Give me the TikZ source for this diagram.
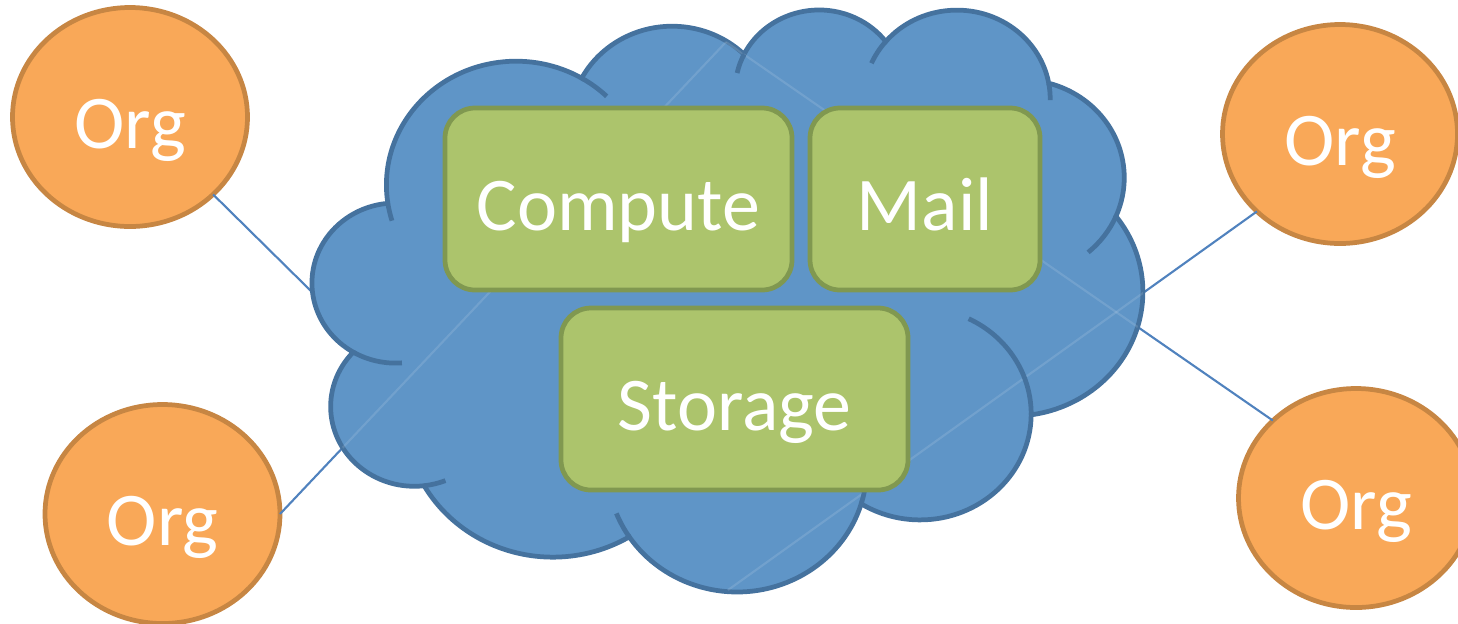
\documentclass[tikz,border=0pt]{standalone}
\usepackage{fontspec}
\setmainfont{Carlito}
\usetikzlibrary{shapes.geometric}
\definecolor{cloudfill}{HTML}{5F95C7}
\definecolor{cloudline}{HTML}{45729E}
\definecolor{orgfill}{HTML}{F9A858}
\definecolor{orgline}{HTML}{C78643}
\definecolor{boxfill}{HTML}{ACC46C}
\definecolor{boxline}{HTML}{809850}
\definecolor{connblue}{HTML}{5082BE}
\newcommand\lblfont{\fontsize{21.6pt}{26pt}\selectfont}
\tikzset{
  org/.style={ellipse, draw=orgline, fill=orgfill, line width=1.35pt, inner sep=0pt, outer sep=0pt,
    minimum width=2.35cm, minimum height=2.19cm, text=white, font=\lblfont, text height=0.62cm, text depth=0pt},
  svc/.style={rectangle, rounded corners=0.3cm, draw=boxline, fill=boxfill, line width=1.35pt, inner sep=0pt,
    outer sep=0pt, minimum height=1.82cm, text=white, font=\lblfont, text height=0.62cm, text depth=0pt},
  conn/.style={draw=connblue, line width=0.6pt},
  faint/.style={draw=white, opacity=0.12, line width=0.6pt},
  cloudshape/.style={draw=cloudline, fill=cloudfill, line width=1.35pt},
  hook/.style={draw=cloudline, line width=1.35pt},
}
\begin{document}
\begin{tikzpicture}
\useasboundingbox (0,0) rectangle (14.58,-6.23);
% organisations
\node[org] (orgTL) at (1.30,-1.17) {Org};
\node[org] (orgBL) at (1.625,-5.14) {Org};
\node[org] (orgTR) at (13.40,-1.34) {Org};
\node[org] (orgBR) at (13.56,-4.98) {Org};
% cloud connection points
\coordinate (cT) at (7.26,-0.42);
\coordinate (cB) at (7.28,-5.90);
\coordinate (cL) at (3.13,-2.93);
% connectors
\draw[conn] (orgTL.south east) -- (cL);
\draw[conn] (orgBL.east) -- (cT);
\draw[conn] (orgTR.south west) -- (cB);
\draw[conn] (orgBR.north west) -- (cT);
% cloud
\filldraw[cloudshape, save path=\cloudpath] (3.876,-2.016) coordinate (c0)
  arc[start angle=-172.255, end angle=-300.363, x radius=1.2972, y radius=1.2375] coordinate (c1)
  arc[start angle=152.025, end angle=45.454, x radius=1.0245, y radius=0.9786] coordinate (c2)
  arc[start angle=153.498, end angle=37.326, x radius=0.8385, y radius=0.8006] coordinate (c3)
  arc[start angle=139.703, end angle=10.211, x radius=0.9330, y radius=0.8881] coordinate (c4)
  arc[start angle=74.768, end angle=-23.211, x radius=1.0245, y radius=0.9794] coordinate (c5)
  arc[start angle=37.526, end angle=-81.862, x radius=1.3015, y radius=1.2416] coordinate (c6)
  arc[start angle=-0.460, end angle=-121.977, x radius=1.1113, y radius=1.0594] coordinate (c7)
  arc[start angle=-16.843, end angle=-146.226, x radius=1.2970, y radius=1.2409] coordinate (c8)
  arc[start angle=-58.985, end angle=-150.206, x radius=1.4830, y radius=1.4197] coordinate (c9)
  arc[start angle=-83.306, end angle=-223.107, x radius=0.8376, y radius=0.7969] coordinate (c10)
  arc[start angle=-120.354, end angle=-264.112, x radius=0.8347, y radius=0.8006]
  -- cycle;
% connectors seen faintly through the cloud
\begin{scope}
  \clip[use path=\cloudpath];
  \draw[faint] (orgBL.east) -- (cT);
  \draw[faint] (orgTR.south west) -- (cB);
  \draw[faint] (orgBR.north west) -- (cT);
\end{scope}
% inner hooks of the cloud
\draw[hook] (c0) arc[start angle=-172.255, end angle=-163.194, x radius=1.2972, y radius=1.2375];
\draw[hook] (c1) arc[start angle=59.637, end angle=45.737, x radius=1.2972, y radius=1.2375];
\draw[hook] (c2) arc[start angle=153.498, end angle=167.726, x radius=0.8385, y radius=0.8006];
\draw[hook] (c3) arc[start angle=139.703, end angle=156.29, x radius=0.9330, y radius=0.8881];
\draw[hook] (c4) arc[start angle=10.211, end angle=-0.821, x radius=0.9330, y radius=0.8881];
\draw[hook] (c5) arc[start angle=-23.211, end angle=-49.636, x radius=1.0245, y radius=0.9794];
\draw[hook] (c6) arc[start angle=-0.460, end angle=64.025, x radius=1.1113, y radius=1.0594];
\draw[hook] (c7) arc[start angle=-16.843, end angle=-4.737, x radius=1.2970, y radius=1.2409];
\draw[hook] (c8) arc[start angle=-146.226, end angle=-158.474, x radius=1.2970, y radius=1.2409];
\draw[hook] (c9) arc[start angle=-83.306, end angle=-68.235, x radius=0.8376, y radius=0.7969];
\draw[hook] (c10) arc[start angle=-120.354, end angle=-85.546, x radius=0.8347, y radius=0.8006];
% services
\node[svc, minimum width=3.47cm] (compute) at (6.185,-1.99) {Compute};
\node[svc, minimum width=2.30cm] (mail) at (9.25,-1.99) {Mail};
\node[svc, minimum width=3.47cm] (storage) at (7.345,-3.99) {Storage};
\end{tikzpicture}
\end{document}
